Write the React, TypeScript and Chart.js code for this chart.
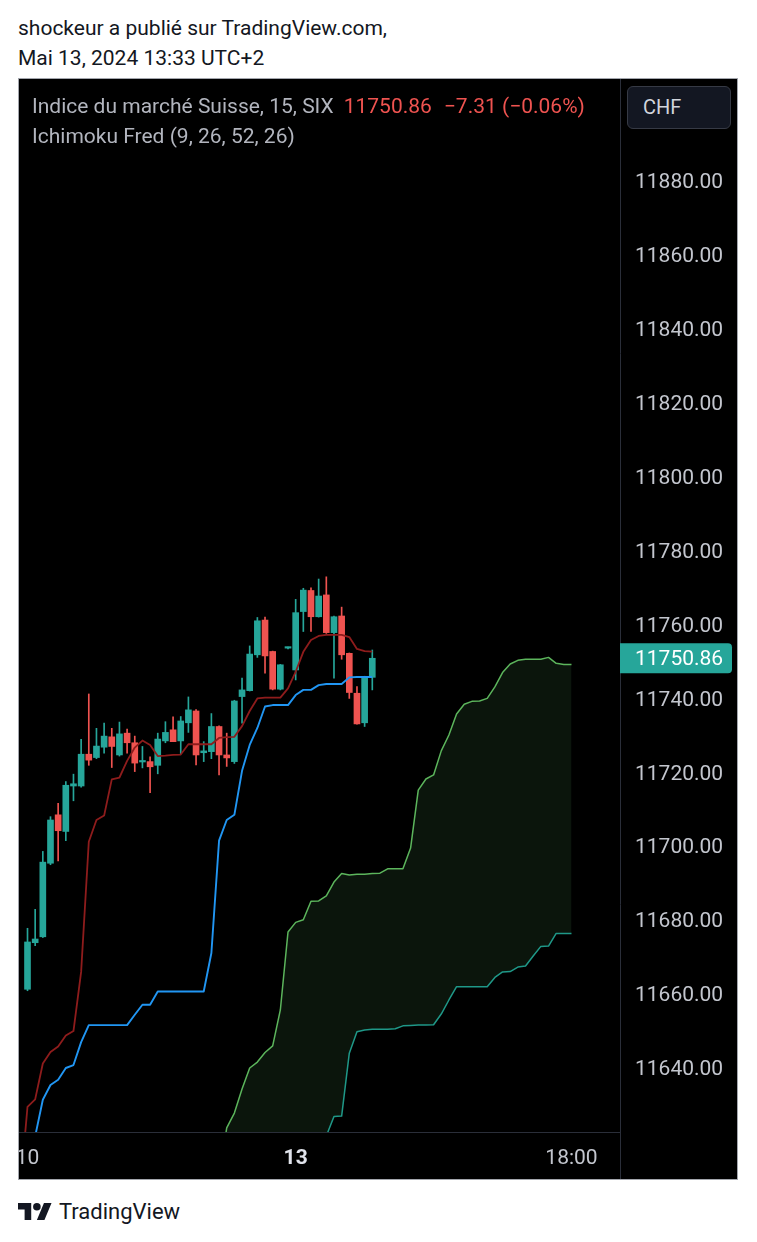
import React, { useEffect, useRef } from "react";
import { Chart, registerables } from "chart.js";

Chart.register(...registerables);

// ---- data (SMI, 15 min bars, May 10 – May 13 2024) ----
const candleIndex = Array.from({ length: 46 }, (_, i) => i);
const openP = [
  11661.3, 11673.9, 11675.5, 11695.4, 11708.5, 11704.0, 11716.3, 11716.3, 11724.9, 11724.0,
  11726.8, 11729.6, 11724.7, 11730.6, 11728.0, 11722.8, 11722.9, 11721.9, 11728.5, 11731.5,
  11728.5, 11733.4, 11736.6, 11725.3, 11725.6, 11732.4, 11724.7, 11722.9, 11740.5, 11742.1,
  11751.8, 11761.2, 11752.7, 11742.5, 11753.6, 11747.7, 11763.5, 11769.2, 11762.1, 11768.0,
  11757.8, 11762.3, 11752.2, 11741.4, 11733.4, 11745.7,
];
const highP = [
  11677.8, 11682.9, 11698.6, 11708.0, 11711.6, 11717.5, 11719.5, 11728.9, 11741.2, 11731.9,
  11733.3, 11731.9, 11733.6, 11731.7, 11729.8, 11727.0, 11724.2, 11730.6, 11733.7, 11735.0,
  11735.1, 11740.4, 11737.0, 11728.3, 11735.9, 11732.6, 11730.6, 11739.5, 11745.5, 11754.2,
  11761.9, 11762.0, 11752.8, 11749.2, 11753.9, 11766.8, 11769.8, 11769.9, 11772.3, 11772.9,
  11762.3, 11764.7, 11752.3, 11743.2, 11746.0, 11753.1,
];
const lowP = [
  11660.9, 11673.1, 11675.3, 11695.0, 11696.0, 11701.5, 11712.3, 11716.0, 11721.9, 11723.7,
  11725.2, 11721.3, 11724.4, 11725.2, 11720.2, 11721.2, 11714.5, 11719.6, 11728.0, 11728.3,
  11725.0, 11730.8, 11722.0, 11722.9, 11723.7, 11719.3, 11721.6, 11722.4, 11733.3, 11742.0,
  11751.1, 11746.8, 11742.3, 11742.3, 11753.4, 11745.0, 11758.1, 11758.1, 11762.0, 11757.6,
  11745.5, 11750.6, 11740.0, 11733.0, 11732.4, 11742.3,
];
const closeP = [
  11674.1, 11674.9, 11695.7, 11707.1, 11704.2, 11716.5, 11716.9, 11724.9, 11723.3, 11727.1,
  11729.8, 11727.0, 11730.4, 11728.0, 11722.5, 11723.0, 11721.5, 11729.0, 11730.8, 11728.3,
  11733.9, 11736.9, 11724.7, 11725.8, 11732.4, 11724.7, 11723.9, 11739.3, 11742.3, 11752.0,
  11761.0, 11751.5, 11742.5, 11749.1, 11753.7, 11763.2, 11769.3, 11762.1, 11767.7, 11757.8,
  11762.1, 11751.8, 11741.6, 11733.1, 11745.9, 11750.86,
];

// Ichimoku lines, starting at bar index -1
const LINE_START = -1;
const conversionLine = [
  11606.0,
  11629.5, 11631.5, 11641.2, 11644.3, 11645.8, 11648.8, 11650.0, 11666.0, 11701.2, 11707.1,
  11708.3, 11718.1, 11718.6, 11723.1, 11726.7, 11728.6, 11727.4, 11724.4, 11724.5, 11724.7,
  11724.8, 11727.6, 11727.6, 11727.6, 11727.6, 11729.3, 11729.5, 11729.6, 11732.5, 11736.6,
  11740.0, 11740.2, 11740.2, 11740.2, 11742.7, 11747.2, 11752.6, 11755.8, 11756.9, 11757.2,
  11757.2, 11757.2, 11756.6, 11753.4, 11752.8, 11752.65,
];
const baseLine = [
  11603.0,
  11612.0, 11621.5, 11631.4, 11635.4, 11636.8, 11640.0, 11640.8, 11647.0, 11651.6, 11651.6,
  11651.6, 11651.6, 11651.6, 11651.6, 11654.4, 11657.1, 11657.1, 11660.7, 11660.7, 11660.7,
  11660.7, 11660.7, 11660.7, 11660.7, 11671.1, 11701.5, 11707.1, 11708.5, 11720.4, 11727.4,
  11732.0, 11737.8, 11738.2, 11738.2, 11738.2, 11740.9, 11742.3, 11742.3, 11743.6, 11743.9,
  11743.9, 11743.9, 11745.7, 11745.8, 11745.8, 11745.8,
];

// Leading spans (cloud), starting at bar index 24, up to index 71
const SPAN_START = 24;
const leadingSpanA = [
  11598.0, 11610.0, 11623.8, 11627.8, 11634.3, 11640.0, 11641.6, 11644.2, 11646.0, 11655.7,
  11676.8, 11679.4, 11680.1, 11685.1, 11685.2, 11686.6, 11690.3, 11692.6, 11692.2, 11692.4,
  11692.4, 11692.6, 11692.7, 11693.9, 11693.9, 11693.9, 11699.5, 11715.2, 11718.2, 11719.3,
  11725.8, 11730.1, 11735.8, 11738.4, 11739.2, 11739.3, 11740.0, 11743.1, 11747.0, 11749.3,
  11750.3, 11750.6, 11750.6, 11750.6, 11751.1, 11749.5, 11749.2, 11749.2,
];
const leadingSpanB = [
  11590.0, 11590.0, 11590.0, 11590.0, 11590.0, 11590.0, 11590.0, 11590.0, 11590.0, 11590.0,
  11590.0, 11590.0, 11590.0, 11595.0, 11600.0, 11621.6, 11626.9, 11627.0, 11644.0, 11649.8,
  11650.3, 11650.5, 11650.5, 11650.5, 11650.6, 11651.4, 11651.5, 11651.6, 11651.6, 11651.7,
  11654.6, 11658.4, 11662.0, 11662.0, 11662.0, 11662.0, 11662.0, 11664.5, 11666.0, 11666.1,
  11667.3, 11667.6, 11670.3, 11672.9, 11673.0, 11676.4, 11676.4, 11676.4,
];

const priceTicks = [
  11640, 11660, 11680, 11700, 11720, 11740, 11760, 11780, 11800, 11820, 11840, 11860, 11880,
];
const timeTickIndex = [0, 35, 71];
const timeTickText = ["10", "13", "18:00"];
const timeTickBold = [false, true, false];

const X_MIN = -1.24;
const X_MAX = 77.33;
const Y_MIN = 11622.68;
const Y_MAX = 11907.87;

const UP = "#26a69a";
const DOWN = "#ef5350";

const overlayPlugin = {
  id: "tvOverlay",
  afterDraw(chart: any) {
    const { ctx, chartArea } = chart;
    const xs = chart.scales.x;
    const ys = chart.scales.y;
    ctx.save();
    // separators
    ctx.strokeStyle = "#2a2e39";
    ctx.lineWidth = 1;
    ctx.beginPath();
    ctx.moveTo(Math.round(chartArea.right) + 0.5, 0);
    ctx.lineTo(Math.round(chartArea.right) + 0.5, chart.height);
    ctx.stroke();
    ctx.beginPath();
    ctx.moveTo(0, Math.round(chartArea.bottom) + 0.5);
    ctx.lineTo(chartArea.right, Math.round(chartArea.bottom) + 0.5);
    ctx.stroke();

    // time labels
    ctx.textAlign = "center";
    ctx.textBaseline = "middle";
    timeTickIndex.forEach((idx, k) => {
      ctx.font = (timeTickBold[k] ? "bold " : "") + "21px Roboto";
      ctx.fillStyle = timeTickBold[k] ? "#e0e3eb" : "#c3c6ce";
      ctx.fillText(timeTickText[k], xs.getPixelForValue(idx), chartArea.bottom + 26.5);
    });

    // last price label
    const last = closeP[closeP.length - 1];
    const py = ys.getPixelForValue(last);
    const x0 = chartArea.right;
    const w = 112;
    const h = 30;
    const r = 4;
    ctx.fillStyle = UP;
    ctx.beginPath();
    ctx.moveTo(x0, py - h / 2);
    ctx.lineTo(x0 + w - r, py - h / 2);
    ctx.quadraticCurveTo(x0 + w, py - h / 2, x0 + w, py - h / 2 + r);
    ctx.lineTo(x0 + w, py + h / 2 - r);
    ctx.quadraticCurveTo(x0 + w, py + h / 2, x0 + w - r, py + h / 2);
    ctx.lineTo(x0, py + h / 2);
    ctx.closePath();
    ctx.fill();
    ctx.font = "21px Roboto";
    ctx.fillStyle = "#ffffff";
    ctx.textAlign = "left";
    ctx.textBaseline = "middle";
    ctx.fillText(last.toFixed(2), x0 + 15, py + 1.5);
    ctx.restore();
  },
};

function ChartCanvas() {
  const ref = useRef<HTMLCanvasElement | null>(null);
  useEffect(() => {
    if (!ref.current) return;
    const colors = candleIndex.map((i) => (closeP[i] >= openP[i] ? UP : DOWN));
    const chart = new Chart(ref.current, {
      type: "bar",
      data: {
        datasets: [
          {
            type: "line",
            label: "Conversion",
            data: conversionLine.map((v, k) => ({ x: k + LINE_START, y: v })),
            borderColor: "#8e1c1c",
            borderWidth: 1.8,
            pointRadius: 0,
            tension: 0,
            fill: false,
            borderJoinStyle: "round",
            order: 1,
          } as any,
          {
            type: "line",
            label: "Base",
            data: baseLine.map((v, k) => ({ x: k + LINE_START, y: v })),
            borderColor: "#2196f3",
            borderWidth: 1.9,
            pointRadius: 0,
            tension: 0,
            fill: false,
            borderJoinStyle: "round",
            order: 2,
          } as any,
          {
            type: "line",
            label: "Lead A",
            data: leadingSpanA.map((v, k) => ({ x: k + SPAN_START, y: v })),
            borderColor: "#5cb55c",
            borderWidth: 1.5,
            pointRadius: 0,
            tension: 0,
            fill: "+1",
            backgroundColor: "#0b150c",
            borderJoinStyle: "round",
            order: 3,
          } as any,
          {
            type: "line",
            label: "Lead B",
            data: leadingSpanB.map((v, k) => ({ x: k + SPAN_START, y: v })),
            borderColor: "#1f9888",
            borderWidth: 1.5,
            pointRadius: 0,
            tension: 0,
            fill: false,
            borderJoinStyle: "round",
            order: 4,
          } as any,
          {
            type: "bar",
            label: "Bodies",
            data: candleIndex.map((i) => ({ x: i, y: [openP[i], closeP[i]] })),
            backgroundColor: colors,
            borderWidth: 0,
            barThickness: 6,
            minBarLength: 1.5,
            grouped: false,
            order: 5,
          } as any,
          {
            type: "bar",
            label: "Wicks",
            data: candleIndex.map((i) => ({ x: i, y: [lowP[i], highP[i]] })),
            backgroundColor: colors,
            borderWidth: 0,
            barThickness: 1,
            grouped: false,
            order: 6,
          } as any,
        ],
      },
      options: {
        responsive: false,
        maintainAspectRatio: false,
        animation: false,
        events: [],
        layout: { padding: { left: 0, right: 0, top: 0, bottom: 48 } },
        plugins: {
          legend: { display: false },
          tooltip: { enabled: false },
          title: { display: false },
          filler: { drawTime: "beforeDatasetsDraw" } as any,
        },
        scales: {
          x: {
            type: "linear",
            display: false,
            min: X_MIN,
            max: X_MAX,
            offset: false,
            bounds: "data",
            grid: { display: false },
          },
          y: {
            type: "linear",
            position: "right",
            min: Y_MIN,
            max: Y_MAX,
            bounds: "data",
            beginAtZero: false,
            grid: { display: false, drawTicks: false },
            border: { display: false },
            ticks: {
              padding: 15,
              labelOffset: 2,
              color: "#c3c6ce",
              font: { family: "Roboto", size: 21 },
              autoSkip: false,
              callback: (v: any) => Number(v).toFixed(2),
            },
            afterBuildTicks: (scale: any) => {
              scale.ticks = priceTicks.map((v) => ({ value: v }));
            },
            afterFit: (scale: any) => {
              scale.width = 118;
              scale.paddingTop = 0;
              scale.paddingBottom = 0;
            },
          } as any,
        },
      },
      plugins: [overlayPlugin],
    });
    return () => chart.destroy();
  }, []);
  return <canvas ref={ref} width={720} height={1102} style={{ display: "block" }} />;
}

function TVLogo() {
  return (
    <svg width={34} height={17} viewBox="0 4 36 18" style={{ position: "absolute", left: 18, top: 1203 }}>
      <path d="M14 22H7V11H0V4h14v18zM28 22h-8l7.5-18h8L28 22z" fill="#131722" />
      <circle cx="20" cy="8" r="4" fill="#131722" />
    </svg>
  );
}

export default function App() {
  return (
    <div
      style={{
        position: "absolute",
        left: 0,
        top: 0,
        width: 757,
        height: 1242,
        background: "#ffffff",
        fontFamily: "Roboto, sans-serif",
        overflow: "hidden",
      }}
    >
      <div style={{ position: "absolute", left: 18, top: 16, fontSize: 21, lineHeight: "24px", color: "#131722", whiteSpace: "nowrap" }}>
        shockeur a publié sur TradingView.com,
      </div>
      <div style={{ position: "absolute", left: 18, top: 46, fontSize: 21, lineHeight: "24px", color: "#131722", whiteSpace: "nowrap" }}>
        Mai 13, 2024 13:33 UTC+2
      </div>

      <div style={{ position: "absolute", left: 18, top: 78, width: 720, height: 1102, background: "#000000" }}>
        <ChartCanvas />
        <div style={{ position: "absolute", left: 14, top: 16, fontSize: 21, lineHeight: "24px", color: "#b2b5be", whiteSpace: "nowrap" }}>
          <span>Indice du marché Suisse, 15, SIX</span>
          <span style={{ color: DOWN, marginLeft: 10 }}>11750.86</span>
          <span style={{ color: DOWN, marginLeft: 12 }}>−7.31 (−0.06%)</span>
        </div>
        <div style={{ position: "absolute", left: 14, top: 46, fontSize: 21, lineHeight: "24px", color: "#b2b5be", whiteSpace: "nowrap" }}>
          Ichimoku Fred (9, 26, 52, 26)
        </div>
        <div
          style={{
            position: "absolute",
            left: 609,
            top: 8,
            width: 104,
            height: 43,
            boxSizing: "border-box",
            background: "#131722",
            border: "1px solid #363a45",
            borderRadius: 6,
            color: "#d1d4dc",
            fontSize: 20,
            lineHeight: "41px",
            paddingLeft: 15,
          }}
        >
          CHF
        </div>
        <div
          style={{
            position: "absolute",
            left: 0,
            top: 0,
            width: 720,
            height: 1102,
            boxSizing: "border-box",
            border: "1px solid #a3a6ad",
            pointerEvents: "none",
          }}
        />
      </div>

      <TVLogo />
      <div style={{ position: "absolute", left: 59, top: 1199, fontSize: 22, lineHeight: "26px", color: "#131722", whiteSpace: "nowrap" }}>
        TradingView
      </div>
    </div>
  );
}
